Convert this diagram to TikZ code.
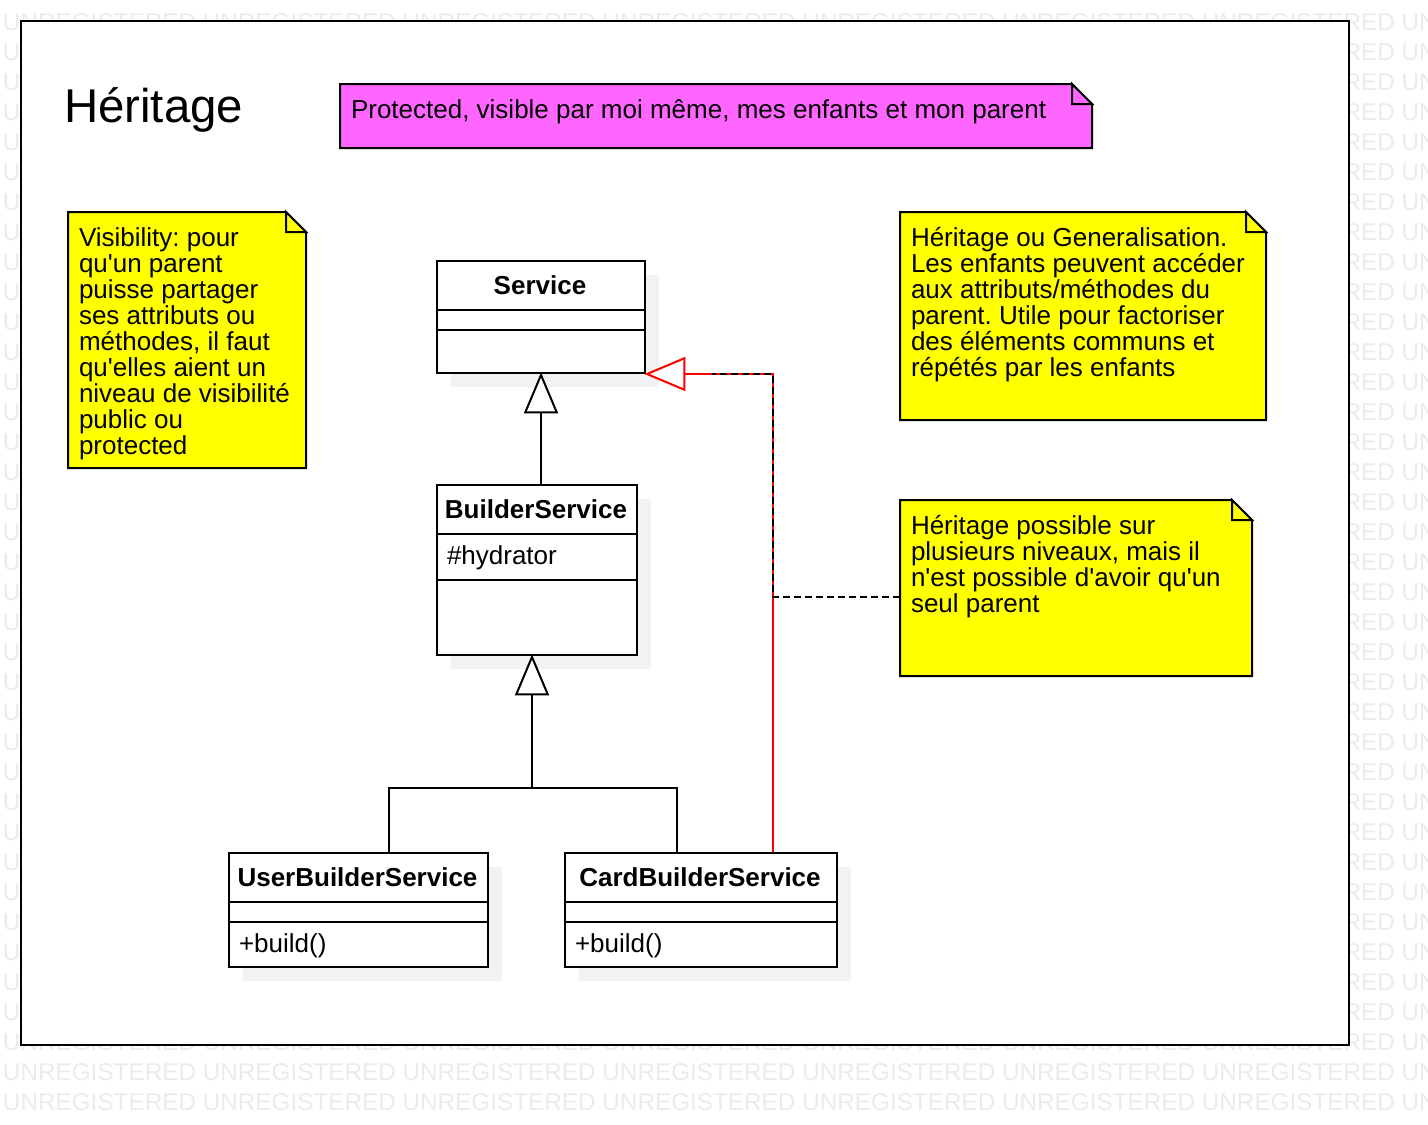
\documentclass[tikz,border=0pt]{standalone}
\usepackage{fontspec}
\setmainfont{Liberation Sans}[Ligatures=TeXOff]
\usetikzlibrary{arrows.meta,shadows}
\frenchspacing
\definecolor{noteyellow}{HTML}{FFFF00}
\definecolor{notepink}{HTML}{FF66FF}
\definecolor{shadowgray}{HTML}{F2F2F2}
\definecolor{watermark}{HTML}{EBEBEB}

\begin{document}
\begin{tikzpicture}[x=0.5pt, y=-0.5pt, line width=1pt,
    txt/.style={inner sep=0pt, font=\fontsize{13pt}{13pt}\selectfont, align=left},
    clsbox/.style={draw, fill=white, anchor=north west, inner sep=0pt,
      drop shadow={shadow xshift=7pt, shadow yshift=-7pt, fill=shadowgray, opacity=1}},
    clsname/.style={txt, anchor=base, font=\fontsize{13pt}{13pt}\selectfont\bfseries},
    member/.style={txt, anchor=base west},
    notebox/.style={anchor=north west, inner sep=0pt},
    notetext/.style={txt, anchor=base west},
    inherit/.style={-{Triangle[length=20.5pt, width=17pt, fill=white]}, shorten >=-0.8pt},
    anchorline/.style={dash pattern=on 3.5pt off 2pt}]
  \useasboundingbox (0,0) rectangle (1428,1124);
  % watermark
  \begin{scope}
    \clip (0,0) rectangle (1428,1124);
    \foreach \r in {0,...,36}
      \node[anchor=west, inner sep=0pt, text=watermark, font=\fontsize{12.15pt}{12.15pt}\selectfont]
        (wm\r) at (2,21.7+30*\r) {UNREGISTERED UNREGISTERED UNREGISTERED UNREGISTERED UNREGISTERED UNREGISTERED UNREGISTERED UNREGISTERED};
  \end{scope}
  \node[draw, fill=white, anchor=north west, inner sep=0pt,
    minimum width=664pt, minimum height=512pt] (frame) at (20,20) {};
  \node[txt, anchor=base west, font=\fontsize{23.7pt}{24pt}\selectfont] (title) at (63,122) {Héritage};
  % notes
  \node[notebox, minimum width=375pt, minimum height=31pt] (protnote) at (340,84) {};
  \node[notebox, minimum width=118pt, minimum height=127pt] (visnote) at (68,212) {};
  \node[notebox, minimum width=182pt, minimum height=103pt] (genote) at (900,212) {};
  \node[notebox, minimum width=175pt, minimum height=87pt] (levnote) at (900,500) {};
  \foreach \n/\c in {protnote/notepink, visnote/noteyellow, genote/noteyellow, levnote/noteyellow}{
    \draw[fill=\c] (\n.north west) -- ([xshift=-10pt]\n.north east) -- ([yshift=-10pt]\n.north east)
      -- (\n.south east) -- (\n.south west) -- cycle;
    \draw[fill=\c] ([xshift=-10pt]\n.north east) |- ([yshift=-10pt]\n.north east) -- cycle;
  }
  % multi-line texts sit on the baseline of their last line
  \node[notetext] (prottext) at (350,118) {Protected, visible par moi même, mes enfants et mon parent};
  \node[notetext] (vistext) at (78,454) {Visibility: pour\\qu'un parent\\puisse partager\\ses attributs ou\\méthodes, il faut\\qu'elles aient un\\niveau de visibilité\\public ou\\protected};
  \node[notetext] (getext) at (910,376) {Héritage ou Generalisation.\\Les enfants peuvent accéder\\aux attributs/méthodes du\\parent. Utile pour factoriser\\des éléments communs et\\répétés par les enfants};
  \node[notetext] (levtext) at (910,612) {Héritage possible sur\\plusieurs niveaux, mais il\\n'est possible d'avoir qu'un\\seul parent};
  % classes
  \node[clsbox, minimum width=104pt, minimum height=56pt] (service) at (436,260) {};
  \node[clsbox, minimum width=100pt, minimum height=85pt] (builder) at (436,484) {};
  \node[clsbox, minimum width=129.5pt, minimum height=57pt] (user) at (228,852) {};
  \node[clsbox, minimum width=136pt, minimum height=57pt] (card) at (564,852) {};
  \foreach \c/\a/\b in {service/25pt/35pt, builder/25pt/48pt, user/25pt/35pt, card/25pt/35pt}
    \draw ([yshift=-\a]\c.north west) -- ([yshift=-\a]\c.north east)
      ([yshift=-\b]\c.north west) -- ([yshift=-\b]\c.north east);
  \node[clsname] (servicename) at (540,294) {Service};
  \node[clsname] (buildername) at (536,518) {BuilderService};
  \node[clsname] (username) at (357.5,886) {UserBuilderService};
  \node[clsname] (cardname) at (700,886) {CardBuilderService};
  \node[member] (hydrator) at (446,564) {\#hydrator};
  \node[member] (userbuild) at (238,952) {+build()};
  \node[member] (cardbuild) at (574,952) {+build()};
  % connectors
  \coordinate (bus) at (532,788);
  \coordinate (redfoot) at ([xshift=36pt]card.north);
  \coordinate (bend) at (redfoot |- service.south east);
  \coordinate (dashend) at ([xshift=33pt]service.south east);
  \draw[inherit] (service.south |- builder.north) -- (service.south);
  \draw ([xshift=15pt]user.north) |- (bus) -| ([xshift=-12pt]card.north);
  \draw[inherit] (bus) -- (bus |- builder.south);
  \draw[inherit, red] (redfoot) |- (service.south east);
  \draw[anchorline] ([yshift=-4.5pt]levnote.west) -| (bend) -- (dashend);
\end{tikzpicture}
\end{document}
